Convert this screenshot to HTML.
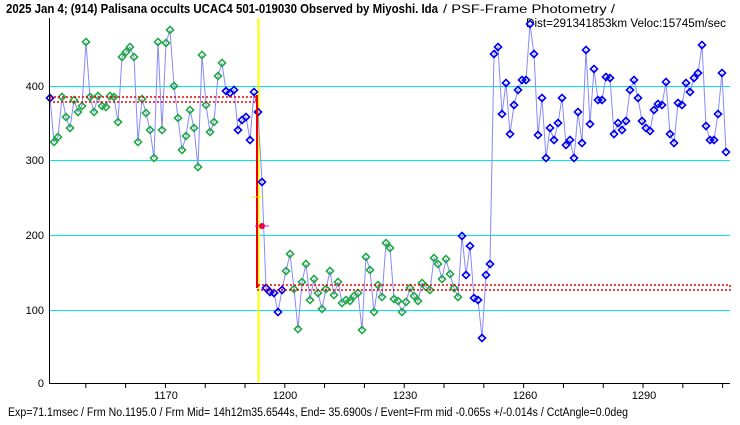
<!DOCTYPE html>
<html><head><meta charset="utf-8"><style>
body{margin:0;background:#fff;width:740px;height:425px;overflow:hidden}
svg{display:block}
text{font-family:"Liberation Sans","Noto Sans CJK JP",sans-serif}
</style></head><body>
<svg id="s" width="740" height="425" xmlns="http://www.w3.org/2000/svg">
<text x="6" y="13" font-size="12.5" font-weight="bold" textLength="432" lengthAdjust="spacingAndGlyphs">2025 Jan 4; (914) Palisana occults UCAC4 501-019030 Observed by Miyoshi. Ida</text>
<text x="443" y="13" font-size="11.5" textLength="172" lengthAdjust="spacingAndGlyphs">/ PSF-Frame Photometry /</text>
<text x="526" y="27" font-size="11.5" textLength="200" lengthAdjust="spacingAndGlyphs">Dist=291341853km Veloc:15745m/sec</text>
<g stroke="#00e5ee" stroke-width="1">
<line x1="49" y1="86.5" x2="730" y2="86.5"/><line x1="49" y1="160.5" x2="730" y2="160.5"/>
<line x1="49" y1="235.5" x2="730" y2="235.5"/><line x1="49" y1="310.5" x2="730" y2="310.5"/>
</g>
<g font-size="11" text-anchor="end">
<text x="44" y="90">400</text><text x="44" y="164">300</text><text x="44" y="239">200</text><text x="44" y="314">100</text><text x="44" y="387">0</text>
</g>
<line x1="258.5" y1="18" x2="258.5" y2="383" stroke="#ffff00" stroke-width="2"/>
<g id="series"></g>
<g id="red">
<rect x="50" y="97" width="206" height="5" fill="none" stroke="#e00" stroke-width="1.5" stroke-dasharray="2,2"/>
<rect x="258" y="285" width="472" height="5" fill="none" stroke="#e00" stroke-width="1.5" stroke-dasharray="2,2"/>
<line x1="257" y1="95" x2="257" y2="288" stroke="#e00" stroke-width="2"/>
<circle cx="262" cy="226" r="3" fill="#e00"/>
<line x1="255" y1="226" x2="269" y2="226" stroke="#e0e" stroke-width="1"/>
<line x1="252" y1="197" x2="264" y2="197" stroke="#ee0" stroke-width="1"/>
</g>
<line x1="49.5" y1="18" x2="49.5" y2="384" stroke="#000"/>
<line x1="49" y1="383.5" x2="730" y2="383.5" stroke="#000"/>
<g stroke="#000" id="ticks"></g>
<g font-size="11" text-anchor="middle">
<text x="166" y="399">1170</text><text x="285" y="399">1200</text><text x="405" y="399">1230</text><text x="525" y="399">1260</text><text x="644" y="399">1290</text>
</g>
<text x="8" y="416" font-size="11.5" textLength="620" lengthAdjust="spacingAndGlyphs">Exp=71.1msec / Frm No.1195.0 / Frm Mid= 14h12m35.6544s,  End= 35.6900s / Event=Frm mid -0.065s +/-0.014s / CctAngle=0.0deg</text>
</svg>
<script>
var pre=[98,142,137,97,117,128,100,112,106,42,97,112,96,106,107,96,97,122,57,52,47,57,142,99,113,130,158,42,130,43,30,86,118,150,136,110,128,167,55,105,132,122,76,63,91,93,90,130,120,117,140,92,112];
var mid=[182,288,292,293,312,290,271,254,289,329,282,264,300,279,293,309,289,271,295,282,303,300,301,296,293,330,257,270,312,285,297,243,248,299,301,312,302,288,296,301,283,287,290,258,264,279,259,274,288,297,236,275,246,298,300,338,275,264];
var post=[54,47,114,83,134,105,90,80,80,24,54,135,98,158,128,140,123,98,145,140,158,112,143,50,124,69,100,100,77,78,134,123,130,121,90,80,98,121,128,131,110,104,105,82,134,143,103,105,83,92,78,73,45,126,140,140,114,73,152];
var ys=pre.concat(mid,post);var N=Math.min(ys.length,171);
var pts=[],g='';
for(var i=0;i<N;i++){var x=50+i*4,y=ys[i];pts.push(x+','+y);}
g+='<polyline points="'+pts.join(' ')+'" fill="none" stroke="#8888ff" stroke-width="1"/>';
var P=pre.length,M=P+mid.length;
for(var i=0;i<N;i++){var x=50+i*4,y=ys[i];
var blue=i==0||(i>=44&&i<P+6)||(i>=M-8);
var c=blue?'#0000ee':'#22aa44';
g+='<rect x="'+(x-2.5)+'" y="'+(y-2.5)+'" width="5" height="5" transform="rotate(45 '+x+' '+y+')" fill="none" stroke="'+c+'" stroke-width="1.6"/>';}
document.getElementById('series').innerHTML=g;
var t='';for(var f=1150;f<=1310;f+=10){var x=50+(f-1141)*3.98;t+='<line x1="'+x+'" y1="383" x2="'+x+'" y2="388"/>';}
document.getElementById('ticks').innerHTML=t;
</script>
</body></html>
